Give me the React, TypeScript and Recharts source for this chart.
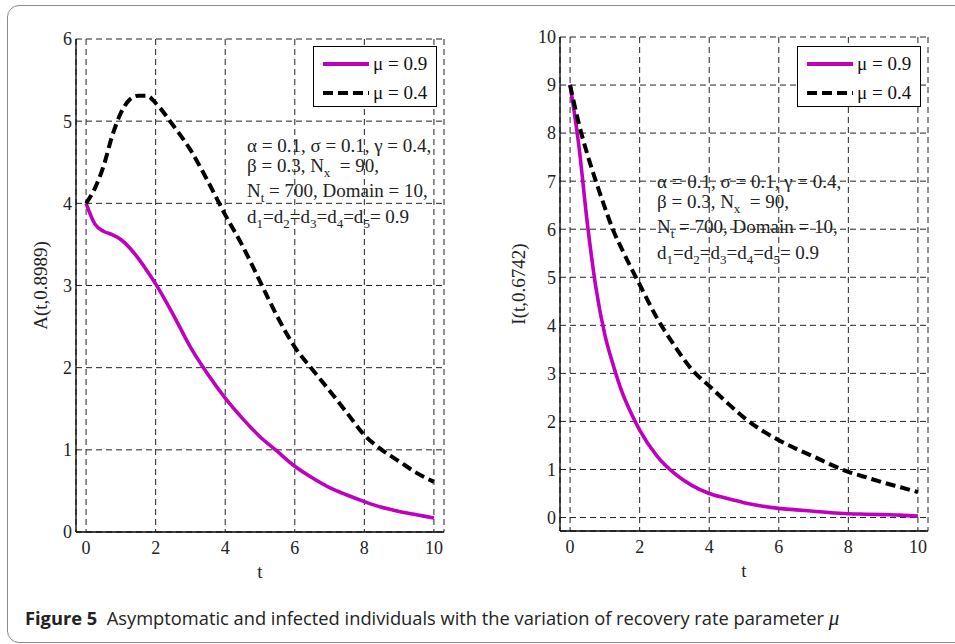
import React from 'react';
import { LineChart, Line, XAxis, YAxis, CartesianGrid, Legend } from 'recharts';

// time grid shared by all curves
const tValues = [0, 0.25, 0.5, 0.75, 1, 1.25, 1.5, 1.75, 2, 2.5, 3, 3.5, 4, 4.5, 5, 5.5, 6, 6.5, 7, 7.5, 8, 8.5, 9, 9.5, 10];

// A(t, 0.8989)
const aMu09 = [4.0, 3.75, 3.66, 3.62, 3.56, 3.46, 3.33, 3.18, 3.02, 2.65, 2.25, 1.92, 1.63, 1.38, 1.16, 0.98, 0.8, 0.66, 0.54, 0.45, 0.37, 0.3, 0.25, 0.21, 0.17];
const aMu04 = [4.0, 4.18, 4.45, 4.82, 5.1, 5.26, 5.31, 5.31, 5.22, 4.95, 4.65, 4.27, 3.86, 3.48, 3.05, 2.62, 2.25, 1.98, 1.72, 1.45, 1.18, 1.0, 0.86, 0.72, 0.61];

// I(t, 0.6742)
const iMu09 = [9.0, 7.75, 6.1, 4.75, 3.8, 3.15, 2.6, 2.18, 1.82, 1.28, 0.92, 0.67, 0.5, 0.4, 0.31, 0.24, 0.19, 0.16, 0.13, 0.1, 0.08, 0.07, 0.06, 0.05, 0.03];
const iMu04 = [9.0, 8.2, 7.55, 6.98, 6.45, 5.96, 5.57, 5.2, 4.85, 4.15, 3.58, 3.08, 2.74, 2.4, 2.08, 1.82, 1.61, 1.43, 1.27, 1.1, 0.95, 0.84, 0.73, 0.63, 0.53];

const xTicks = [0, 2, 4, 6, 8, 10];
const aTicks = [0, 1, 2, 3, 4, 5, 6];
const iTicks = [0, 1, 2, 3, 4, 5, 6, 7, 8, 9, 10];
const seriesNames = { mu09: 'μ = 0.9', mu04: 'μ = 0.4' };
const legendOrder = ['mu09', 'mu04'];

const MAGENTA = '#BF00BF';
const SERIF = '"Liberation Serif", "DejaVu Serif", serif';
const tickStyle = { fontFamily: SERIF, fontSize: 18, fill: '#222' };

const aData = tValues.map((t, i) => ({ t, mu09: aMu09[i], mu04: aMu04[i] }));
const iData = tValues.map((t, i) => ({ t, mu09: iMu09[i], mu04: iMu04[i] }));

const dashFor: Record<string, string | undefined> = { mu09: undefined, mu04: '10 5' };

function MuLegend({ payload }: any) {
  const items = [...(payload || [])].sort((a: any, b: any) => legendOrder.indexOf(a.dataKey) - legendOrder.indexOf(b.dataKey));
  return (
    <div style={{ width: 124, height: 61, border: '1.2px solid #000', background: '#fff', boxSizing: 'border-box', paddingTop: 2 }}>
      {items.map((entry: any) => (
        <div key={entry.dataKey} style={{ display: 'flex', alignItems: 'center', height: 29 }}>
          <svg width={56} height={10} style={{ marginLeft: 9 }}>
            <line x1={0} y1={5} x2={46} y2={5} stroke={entry.color} strokeWidth={4} strokeDasharray={dashFor[entry.dataKey]} />
          </svg>
          <span style={{ fontFamily: SERIF, fontSize: 19, color: '#111', marginLeft: -6 }}>{entry.value}</span>
        </div>
      ))}
    </div>
  );
}

const Sub = ({ children }: { children: React.ReactNode }) => (
  <span style={{ fontSize: 13, position: 'relative', top: 5 }}>{children}</span>
);

function Params({ left, top }: { left: number; top: number }) {
  const line = (y: number): React.CSSProperties => ({
    position: 'absolute', left, top: top + y, fontFamily: SERIF, fontSize: 19, lineHeight: '19px', color: '#222', whiteSpace: 'nowrap',
  });
  return (
    <>
      <div style={line(0)}>α = 0.1, σ = 0.1, γ = 0.4,</div>
      <div style={line(20)}>β = 0.3, N<Sub>x</Sub>&nbsp; = 90,</div>
      <div style={line(45)}>N<Sub>t</Sub>&nbsp;= 700, Domain = 10,</div>
      <div style={line(71)}>d<Sub>1</Sub>=d<Sub>2</Sub>=d<Sub>3</Sub>=d<Sub>4</Sub>=d<Sub>5</Sub>= 0.9</div>
    </>
  );
}

type PanelProps = {
  data: any[];
  yLabel: string;
  yDomain: [number, number];
  yTicks: number[];
  width: number;
  marginTop: number;
  marginRight: number;
  yAxisWidth: number;
  xAxisHeight: number;
  labelX: number;
  legendLeft: number;
};

function Panel(p: PanelProps) {
  return (
    <LineChart width={p.width} height={600} data={p.data} margin={{ top: p.marginTop, right: p.marginRight, bottom: 0, left: 0 }}>
      <CartesianGrid stroke="#222" strokeDasharray="6 4" strokeWidth={1} />
      <XAxis
        dataKey="t" type="number" domain={[-0.29, 10.29]} ticks={xTicks} height={p.xAxisHeight}
        tick={tickStyle} tickLine={false} tickSize={0} tickMargin={9} axisLine={{ stroke: '#000', strokeWidth: 1.3 }}
        label={(props: any) => {
          const vb = props.viewBox;
          return <text x={vb.x + vb.width / 2} y={vb.y + 46} textAnchor="middle" fontFamily={SERIF} fontSize={19} fill="#222">t</text>;
        }}
      />
      <XAxis xAxisId="top" orientation="top" type="number" domain={[-0.29, 10.29]} ticks={xTicks} height={0} tick={false} tickLine={false} axisLine={{ stroke: '#000', strokeWidth: 1.3 }} />
      <YAxis
        type="number" domain={p.yDomain} ticks={p.yTicks} width={p.yAxisWidth} interval={0}
        tick={tickStyle} tickLine={false} tickSize={0} tickMargin={4} axisLine={{ stroke: '#000', strokeWidth: 1.3 }}
        label={(props: any) => {
          const vb = props.viewBox;
          const cx = vb.x + p.labelX;
          const cy = vb.y + vb.height / 2;
          return <text x={cx} y={cy} transform={`rotate(-90 ${cx} ${cy})`} textAnchor="middle" dominantBaseline="central" fontFamily={SERIF} fontSize={19} fill="#222">{p.yLabel}</text>;
        }}
      />
      <YAxis yAxisId="right" orientation="right" type="number" domain={p.yDomain} width={0} tick={false} tickLine={false} axisLine={{ stroke: '#000', strokeWidth: 1.3 }} />
      <Legend
        layout="vertical" align="center" verticalAlign="middle"
        content={<MuLegend />}
        wrapperStyle={{ left: p.legendLeft, top: 46, width: 124, height: 61 }}
      />
      <Line type="monotone" dataKey="mu09" name={seriesNames.mu09} stroke={MAGENTA} strokeWidth={3.6} dot={false} activeDot={false} isAnimationActive={false} />
      <Line type="monotone" dataKey="mu04" name={seriesNames.mu04} stroke="#000" strokeWidth={4} strokeDasharray="10 5" dot={false} activeDot={false} isAnimationActive={false} />
    </LineChart>
  );
}

export default function App() {
  return (
    <div style={{ position: 'absolute', left: 0, top: 0, width: 955, height: 644, overflow: 'hidden', background: '#fff' }}>
      <div style={{ position: 'absolute', left: 7, top: 5, width: 1000, height: 638, border: '1.5px solid #8a8a8a', borderRadius: 12, boxSizing: 'border-box' }} />

      <div style={{ position: 'absolute', left: 0, top: 0 }}>
        <Panel data={aData} yLabel="A(t,0.8989)" yDomain={[0, 6]} yTicks={aTicks} width={460} marginTop={39} marginRight={16} yAxisWidth={76} xAxisHeight={68} labelX={40} legendLeft={313} />
      </div>
      <div style={{ position: 'absolute', left: 480, top: 0 }}>
        <Panel data={iData} yLabel="I(t,0.6742)" yDomain={[-0.28, 10]} yTicks={iTicks} width={465} marginTop={37} marginRight={17} yAxisWidth={80} xAxisHeight={69} labelX={38} legendLeft={317} />
      </div>

      <Params left={247} top={136} />
      <Params left={657} top={172} />

      <div style={{ position: 'absolute', left: 25, top: 606, fontFamily: '"Open Sans", "Noto Sans", sans-serif', fontSize: 18.3, lineHeight: '24px', color: '#222', whiteSpace: 'nowrap' }}>
        <b>Figure 5</b>&nbsp; Asymptomatic and infected individuals with the variation of recovery rate parameter <i style={{ fontFamily: SERIF, fontSize: 21 }}>μ</i>
      </div>
    </div>
  );
}
